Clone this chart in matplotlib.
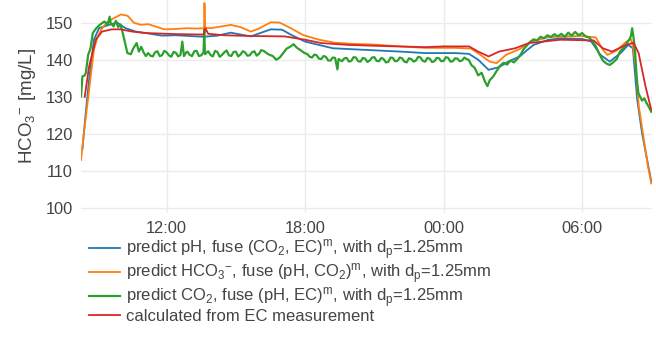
import matplotlib.pyplot as plt

plt.rcParams['font.family'] = ['Liberation Sans', 'DejaVu Sans']
plt.rcParams['mathtext.default'] = 'regular'

# time in hours (24 = 00:00 next day)
tick_pos = [12, 18, 24, 30]
tick_lab = ['12:00', '18:00', '00:00', '06:00']

blue_t = [8.35, 8.5, 8.64, 8.85, 9.07, 9.5, 9.86, 10.22, 10.66, 11.09, 11.8, 12.4, 13.0, 13.6,
          14.2, 14.78, 15.2, 15.65, 16.1, 16.52, 17.0, 17.4, 18.0, 19.2, 20.5, 22.14, 23.2, 24.5,
          25.1, 25.5, 25.95, 26.4, 26.8, 27.3, 27.6, 27.9, 28.5, 29.07, 30.0, 30.4, 30.8, 31.2,
          31.67, 32.0, 32.2, 32.39, 32.6, 32.82, 33.0]
blue_v = [116, 126, 134.6, 145.4, 148.5, 149.4, 150.0, 148.5, 147.6, 147.2, 146.5, 146.6, 146.4, 146.2,
          146.5, 147.3, 146.8, 146.3, 147.3, 148.2, 148.1, 146.7, 144.9, 143.1, 142.7, 142.2, 141.8, 141.8,
          141.6, 140.0, 137.3, 138.0, 139.5, 140.9, 142.5, 144.0, 145.3, 145.8, 145.6, 144.9, 141.3, 139.5,
          141.8, 144.0, 143.1, 129.2, 120.2, 113.0, 107.2]

orange_t = [8.29, 8.45, 8.59, 8.72, 8.85, 9.0, 9.16, 9.4, 9.59, 9.8, 10.02, 10.2, 10.32, 10.58, 10.89,
            11.2, 11.5, 11.9, 12.4, 12.9, 13.3, 13.62, 13.64, 13.67, 13.9, 14.4, 14.78, 15.2, 15.65,
            16.0, 16.3, 16.52, 16.9, 17.38, 17.9, 18.6, 19.3, 20.0, 21.0, 22.14, 23.2, 24.5, 25.2,
            25.6, 26.0, 26.3, 26.7, 27.3, 27.8, 28.5, 29.07, 30.0, 30.6, 30.9, 31.1, 31.5, 31.9,
            32.12, 32.22, 32.32, 32.46, 32.68, 32.85, 33.0]
orange_v = [113.0, 122, 129.2, 136, 142.7, 146, 148.1, 150, 150.8, 151.5, 152.2, 152.0, 151.8, 150.0, 149.4,
            149.6, 149.0, 148.2, 148.3, 148.5, 148.4, 148.5, 155.3, 148.6, 148.5, 149.0, 149.4, 148.8, 147.6,
            148.4, 149.4, 150.1, 150.0, 148.5, 146.7, 145.4, 144.6, 144.3, 144.1, 143.6, 143.2, 143.2, 143.0,
            141.3, 139.5, 139.1, 141.3, 142.9, 144.9, 146.0, 146.3, 146.4, 146.0, 142.7, 141.3, 142.5, 144.8,
            145.6, 143.0, 138.2, 127.4, 118.4, 111.5, 106.7]

green_t = [8.29, 8.35, 8.45, 8.5, 8.6, 8.7, 8.8, 8.95, 9.1, 9.3, 9.45, 9.53, 9.58, 9.7, 9.8, 9.9, 10.0,
           10.1, 10.3, 10.45, 10.55, 10.7, 10.8, 10.9, 11.0, 11.1,
           11.2, 11.3, 11.4, 11.5, 11.6, 11.7, 11.8, 11.9, 12.0, 12.1, 12.2, 12.3, 12.4, 12.5, 12.6,
           12.68, 12.75, 12.85, 12.9, 13.0, 13.1, 13.2, 13.3, 13.4, 13.5, 13.6,
           13.63, 13.66, 13.8, 13.9, 14.0, 14.1, 14.2, 14.3, 14.4, 14.5, 14.6, 14.7, 14.8, 14.9, 15.0,
           15.1, 15.2, 15.3, 15.4, 15.5, 15.6, 15.7, 15.8, 15.9, 16.0, 16.1, 16.2,
           16.4, 16.6, 16.75, 16.9, 17.05, 17.2, 17.35, 17.5, 17.65, 17.8, 17.95, 18.1, 18.2, 18.3, 18.4,
           18.5, 18.6, 18.7, 18.8, 18.9, 19.0, 19.1, 19.2, 19.3, 19.4, 19.45, 19.6, 19.7, 19.8, 19.9,
           20.0, 20.1, 20.2, 20.3, 20.4, 20.5, 20.6, 20.7, 20.8, 20.9, 21.0, 21.1, 21.2, 21.3,
           21.4, 21.5, 21.6, 21.7, 21.8, 21.9, 22.0, 22.1, 22.2, 22.3, 22.4, 22.5, 22.6, 22.7, 22.8,
           22.9, 23.0, 23.1, 23.2, 23.3, 23.4, 23.5, 23.6, 23.7, 23.8, 23.9, 24.0, 24.1, 24.2, 24.3,
           24.4, 24.5, 24.6, 24.7, 24.8, 24.9, 25.0, 25.1, 25.2, 25.35, 25.5, 25.65, 25.8, 25.9, 26.0,
           26.15, 26.3, 26.45,
           26.6, 26.75, 26.9, 27.05, 27.2, 27.35, 27.45, 27.6, 27.75, 27.9, 28.05, 28.2, 28.35, 28.5,
           28.65, 28.8, 28.95, 29.1, 29.25, 29.4, 29.55, 29.7, 29.85, 30.0, 30.15, 30.3, 30.45, 30.6,
           30.75, 30.9, 31.05, 31.2, 31.35, 31.5, 31.65, 31.8, 31.95, 32.05, 32.12, 32.17, 32.24,
           32.3, 32.37, 32.44, 32.52, 32.6, 32.7, 32.8, 32.9, 33.0]
green_v = [130.1, 135.5, 135.8, 136.5, 141.3, 143.0, 147.2, 148.5, 149.4, 150.3, 149.5, 151.6, 149.8,
           149.0, 150.5, 148.8, 149.5, 147.2, 141.8, 141.5, 143.0, 144.5, 142.2, 143.5, 142.0, 141.0,
           141.8, 141.1, 140.9, 142.0, 142.3, 141.0, 141.2, 142.4, 142.0, 141.2, 140.8, 142.1, 141.9,
           140.9, 141.3,
           144.9, 141.0, 142.0, 142.2, 141.3, 141.0, 142.3, 142.4, 141.0, 141.2, 142.0,
           148.1, 141.5, 142.3, 141.3, 140.9, 142.4, 142.1, 140.8, 141.3, 142.0, 142.5, 141.2, 141.0,
           142.1, 142.2, 140.9, 141.4, 142.3, 142.0, 141.1, 141.2, 142.0, 142.3, 141.1, 141.6, 142.6,
           142.4, 141.5, 141.0, 140.0, 140.6, 141.8, 143.0, 143.5, 144.2, 143.2, 142.6, 141.9, 141.5,
           140.8, 140.6, 141.4, 141.2, 140.3, 140.2, 141.0, 140.8, 139.8, 139.8, 140.6, 140.5, 137.4,
           140.2, 139.6, 140.4, 140.5, 139.5,
           139.7, 140.7, 140.6, 139.6, 139.5, 140.5, 140.3, 139.4, 139.8, 140.6, 140.7, 139.7, 139.6,
           140.5, 140.2, 139.3, 139.4, 140.6, 140.5, 139.6, 139.7, 140.6, 140.4, 139.5, 139.3, 140.4,
           140.2, 139.5, 139.8, 140.8, 140.6, 139.7, 139.5, 140.5, 140.3, 139.4, 139.6, 140.5, 140.4,
           139.6, 139.7, 140.7, 140.5, 139.5, 139.6, 140.4, 140.3, 139.6, 139.8, 140.6, 140.2, 139.9,
           138.6, 137.8, 135.8, 136.5, 134.0, 132.9, 134.5, 135.5, 137.0, 138.4, 139.2, 138.7, 139.8,
           139.3, 140.3, 141.5, 142.7, 143.8, 144.8, 145.5, 145.2, 146.2, 145.8, 146.6, 146.1, 146.9,
           146.3, 147.0, 146.2, 147.3, 146.5, 147.5, 146.6, 147.2, 146.3, 146.0, 145.0, 143.6, 141.5,
           139.8, 139.0, 138.6, 139.3, 140.2, 142.3, 143.2, 144.6, 145.5, 146.5, 148.5, 145.5, 141.8,
           135.0, 131.0, 130.0, 129.0, 129.6, 128.3, 127.2, 126.0]

red_t = [8.45, 8.64, 8.93, 9.2, 9.63, 10.0, 10.5, 11.09, 12.5, 13.6, 13.68, 13.8, 14.5, 15.65, 17.1,
         18.0, 18.7, 19.9, 21.4, 23.2, 24.0, 25.1, 25.5, 25.95, 26.4, 27.1, 27.7, 29.07, 30.5, 30.9,
         31.3, 31.9, 32.23, 32.45, 32.75, 33.0]
red_v = [130, 138.2, 145.4, 147.6, 148.2, 148.2, 147.6, 147.2, 146.9, 146.8, 148.5, 147.0, 146.6, 146.4, 146.3,
         145.4, 144.5, 144.0, 143.7, 143.4, 143.6, 143.6, 142.2, 140.9, 142.2, 143.1, 144.5, 145.4, 145.2, 143.1,
         142.2, 144.0, 144.6, 141.8, 132.8, 126.5]

labels = [r'predict pH, fuse (CO$_2$, EC)$^m$, with d$_p$=1.25mm',
          r'predict HCO$_3$$^{-}$, fuse (pH, CO$_2$)$^m$, with d$_p$=1.25mm',
          r'predict CO$_2$, fuse (pH, EC)$^m$, with d$_p$=1.25mm',
          'calculated from EC measurement']

fig = plt.figure(figsize=(6.56, 3.39), dpi=100)
ax = fig.add_axes([81/656, 126/339, 571/656, 213/339])

ax.plot(blue_t, blue_v, color='#1f77b4', lw=1.3, label=labels[0])
ax.plot(orange_t, orange_v, color='#ff7f0e', lw=1.3, label=labels[1])
ax.plot(green_t, green_v, color='#2ca02c', lw=1.6, label=labels[2])
ax.plot(red_t, red_v, color='#d62728', lw=1.3, label=labels[3])

ax.set_xlim(8.29, 33.03)
ax.set_ylim(98.73, 156.1)
ax.set_xticks(tick_pos)
ax.set_xticklabels(tick_lab)
ax.set_yticks([100, 110, 120, 130, 140, 150])
ax.grid(True, color='#ebebeb', lw=1)
ax.set_axisbelow(True)
for s in ax.spines.values():
    s.set_visible(False)
ax.tick_params(length=0, labelsize=11.8, colors='#444444', pad=6)
ax.set_ylabel(r'HCO$_3$$^{-}$ [mg/L]', fontsize=13.5, color='#444444', labelpad=5)

fig.legend(loc='upper left', bbox_to_anchor=(82/656, 1 - 231/339), frameon=False,
           fontsize=12, handlelength=1.9, handletextpad=0.35, labelspacing=-0.05,
           labelcolor='#444444', borderaxespad=0)

fig.savefig('out.png', dpi=100)
